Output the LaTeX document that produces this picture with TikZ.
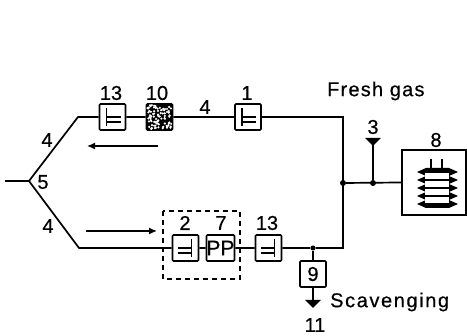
\documentclass[tikz,border=0pt]{standalone}
\usepackage{fontspec}
\setmainfont{Liberation Sans}
\newfontfamily\scanfont[FakeBold=0.5]{Liberation Sans}
\newfontfamily\scanwide[FakeBold=0.5,LetterSpace=6]{Liberation Sans}
\newfontfamily\scanwider[FakeBold=0.5,LetterSpace=8]{Liberation Sans}
\usetikzlibrary{arrows.meta}
\tikzset{
	lbl/.style={inner sep=0pt,font=\fontsize{20}{20}\selectfont\scanfont},
	wide/.style={inner sep=0pt,anchor=west,font=\fontsize{20}{20}\selectfont\scanwide},
	box/.style={draw,line width=1.7pt,minimum size=26pt,inner sep=0pt,rounded corners=1pt,fill=white},
	pipe/.style={line width=1.7pt},
	dot/.style={circle,fill=black,inner sep=0pt,minimum size=6pt},
	flow/.style={line width=1.4pt,-{Latex[length=8pt,width=7pt]}}
}
\begin{document}
\begin{tikzpicture}[x=1pt,y=-1pt]
	\useasboundingbox (0,0) rectangle (467,336);
	% branch points and bends
	\coordinate (stub) at (5,181);
	\node[inner sep=0pt] (y5) at (29,181) {};
	\coordinate (bendT) at (78,117);
	\coordinate (bendB) at (79,248);
	\node[dot] (jR) at (343,183) {};
	\node[dot] (j3) at (373,183) {};
	\node[dot,minimum size=5pt] (j9) at (313,248) {};
	\coordinate (cornerT) at (343,117);
	\coordinate (cornerB) at (343,248);
	\coordinate (t3) at (373,139);
	% boxes
	\node[box] (v13a) at (112.5,117) {};
	\node[box,fill=black] (f10) at (159.5,117) {};
	\node[box] (v1) at (248,117) {};
	\node[box] (v2) at (185.5,248) {};
	\node[box,font=\fontsize{21}{21}\selectfont\scanfont] (pp7) at (220.5,248) {PP};
	\node[box] (v13b) at (268.5,248) {};
	\node[box,font=\fontsize{20}{20}\selectfont\scanfont] (s9) at (313,274) {9};
	\node[draw,line width=1.7pt,minimum width=64pt,minimum height=65pt,inner sep=0pt] (b8) at (434,182.5) {};
	\coordinate (a11) at (313,307);
	% pipes
	\draw[pipe] (stub) -- (y5.center) -- (bendT) -- (v13a) -- (f10) -- (v1) -- (cornerT) -- (cornerB) -- (j9) -- (v13b) -- (pp7) -- (v2) -- (bendB) -- (y5.center);
	\draw[pipe] (jR) -- (b8.west);
	\draw[pipe] (j3) -- (t3);
	\fill (t3) ++(-8,-1) -- ++(16,0) -- ++(-8,8) -- cycle;
	\draw[pipe] (j9) -- (s9);
	\draw[pipe] (s9) -- (a11);
	\fill (a11) ++(-8,-7) -- ++(16,0) -- ++(-8,8) -- cycle;
	% valve marks
	\foreach \v/\s in {v13a/1,v1/1,v2/-1,v13b/-1}
		\draw[line width=1.4pt,shift={(\v.center)},xscale=\s] (-6,-9) -- (-6,9) (-6,0) -- (8,0) (-6,5) -- (8,5);
	% speckles of the filter
	\pgfmathsetseed{7}
	\foreach \i in {1,...,85}
		\fill[white] (147.5+rnd*24,105+rnd*24) circle[radius=1.2];
	% dashed group
	\draw[line width=1.4pt,dash pattern=on 5pt off 4pt] (163,211) rectangle (240,279);
	% flow arrows
	\draw[flow] (158,146) -- (87,146);
	\draw[flow] (86,231) -- (157,231);
	% bellows
	\foreach \y in {172,180,188,196,204}
		\fill (417,\y) -- (426,\y-4) -- (449,\y-4) -- (458,\y) -- (449,\y+4) -- (426,\y+4) -- cycle;
	\foreach \y in {173,181,189,197}
		\fill[white] (425,\y) rectangle (449,\y+6);
	\draw[pipe] (431,159) -- (431,170) (442,159) -- (442,170);
	% labels
	\node[lbl] (n13a) at (111,93) {13};
	\node[lbl] (n10) at (157,93) {10};
	\node[lbl] (n4c) at (205,107) {4};
	\node[lbl] (n1) at (247,93) {1};
	\node[lbl] (n4a) at (47,140) {4};
	\node[lbl] (n5) at (43,182) {5};
	\node[lbl] (n4b) at (48,226) {4};
	\node[lbl] (n2) at (185,223) {2};
	\node[lbl] (n7) at (221,223) {7};
	\node[lbl] (n13b) at (267,223) {13};
	\node[lbl] (n3) at (373,127) {3};
	\node[lbl] (n8) at (436,140) {8};
	\node[lbl] (n11) at (315,325) {11};
	\node[wide] (fresh) at (327,91) {Fresh gas};
	\node[wide,font=\fontsize{20}{20}\selectfont\scanwider] (scav) at (330,302) {Scavenging};
\end{tikzpicture}
\end{document}
